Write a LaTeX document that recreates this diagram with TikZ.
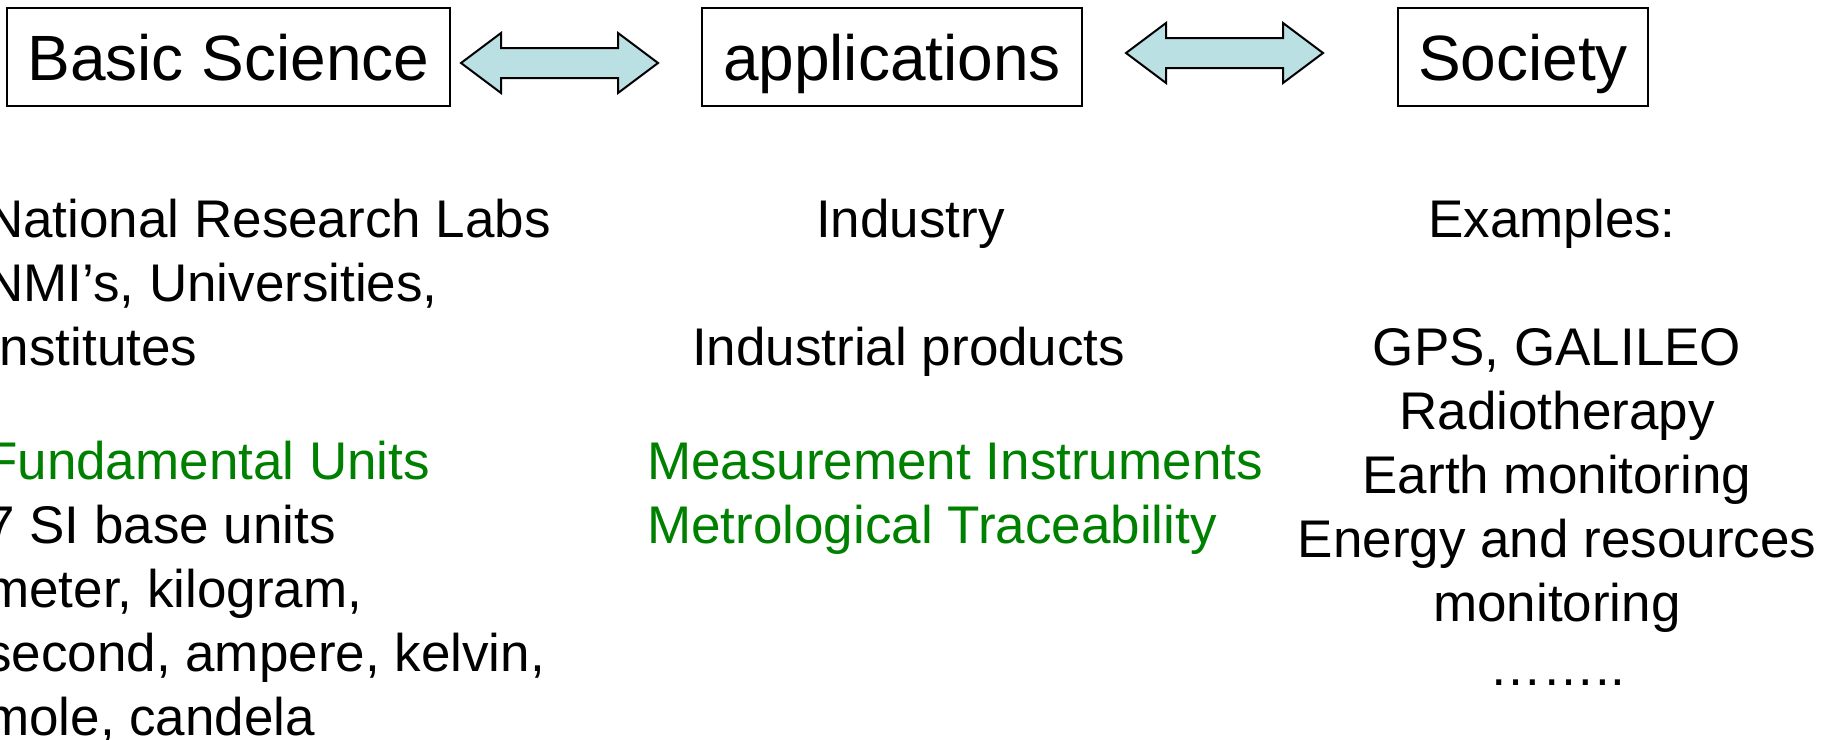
\documentclass[tikz,border=0pt]{standalone}
\usepackage{fontspec}
\setmainfont{Liberation Sans}
\definecolor{arrowfill}{HTML}{BBE0E3}
\definecolor{unitgreen}{HTML}{008000}

% two-headed block arrow: #1 = left tip coordinate, #2 = shaft length
\newcommand\dblarrow[2]{%
  \draw[blockarrow] (#1) -- ++(40,-30) -- ++(0,15) -- ++(#2,0) -- ++(0,-15)
    -- ++(40,30) -- ++(-40,30) -- ++(0,-15) -- ++(-#2,0) -- ++(0,15) -- cycle;}

\begin{document}
\begin{tikzpicture}[x=1pt,y=-1pt,
  titlebox/.style={draw=black, line width=2.5pt, inner sep=0pt,
    text height=46pt, text depth=0pt, minimum height=98pt,
    font=\fontsize{64}{77}\selectfont},
  bodytext/.style={inner sep=0pt, font=\fontsize{53}{64}\selectfont},
  lefttext/.style={bodytext, anchor=base west},
  centertext/.style={bodytext, anchor=base},
  greentext/.style={text=unitgreen},
  blockarrow/.style={draw=black, line width=2pt, fill=arrowfill, line join=miter}]

\useasboundingbox (0,0) rectangle (1823,739);
\clip (0,0) rectangle (1823,739);

% header boxes
\node[titlebox, minimum width=443pt] (basic) at (228.5,57) {Basic Science};
\node[titlebox, minimum width=380pt] (appl)  at (892,57)   {applications};
\node[titlebox, minimum width=250pt] (soc)   at (1523,57)  {Society};

% block arrows between the boxes
\coordinate (arrowA) at (461,63);
\coordinate (arrowB) at (1126,53);
\dblarrow{arrowA}{117}
\dblarrow{arrowB}{117}

% left column
\node[lefttext] (l1) at (-15,237) {National Research Labs};
\node[lefttext] (l2) at (-15,301) {NMI’s, Universities,};
\node[lefttext] (l3) at (-15,365) {Institutes};
\node[lefttext, greentext] (l4) at (-15,479) {Fundamental Units};
\node[lefttext] (l5) at (-15,543) {7 SI base units};
\node[lefttext] (l6) at (-15,607) {meter, kilogram,};
\node[lefttext] (l7) at (-15,671) {second, ampere, kelvin,};
\node[lefttext] (l8) at (-15,735) {mole, candela};

% middle column
\node[lefttext] (m1) at (816,237) {Industry};
\node[lefttext] (m2) at (692,365) {Industrial products};
\node[lefttext, greentext] (m3) at (647,479) {Measurement Instruments};
\node[lefttext, greentext] (m4) at (647,543) {Metrological Traceability};

% right column
\node[centertext] (r1) at (1552,237) {Examples:};
\node[centertext] (r2) at (1557,365) {GPS, GALILEO};
\node[centertext] (r3) at (1557,429) {Radiotherapy};
\node[centertext] (r4) at (1557,493) {Earth monitoring};
\node[centertext] (r5) at (1557,557) {Energy and resources};
\node[centertext] (r6) at (1557,621) {monitoring};
\node[centertext] (r7) at (1557,685) {……..};
\end{tikzpicture}
\end{document}
